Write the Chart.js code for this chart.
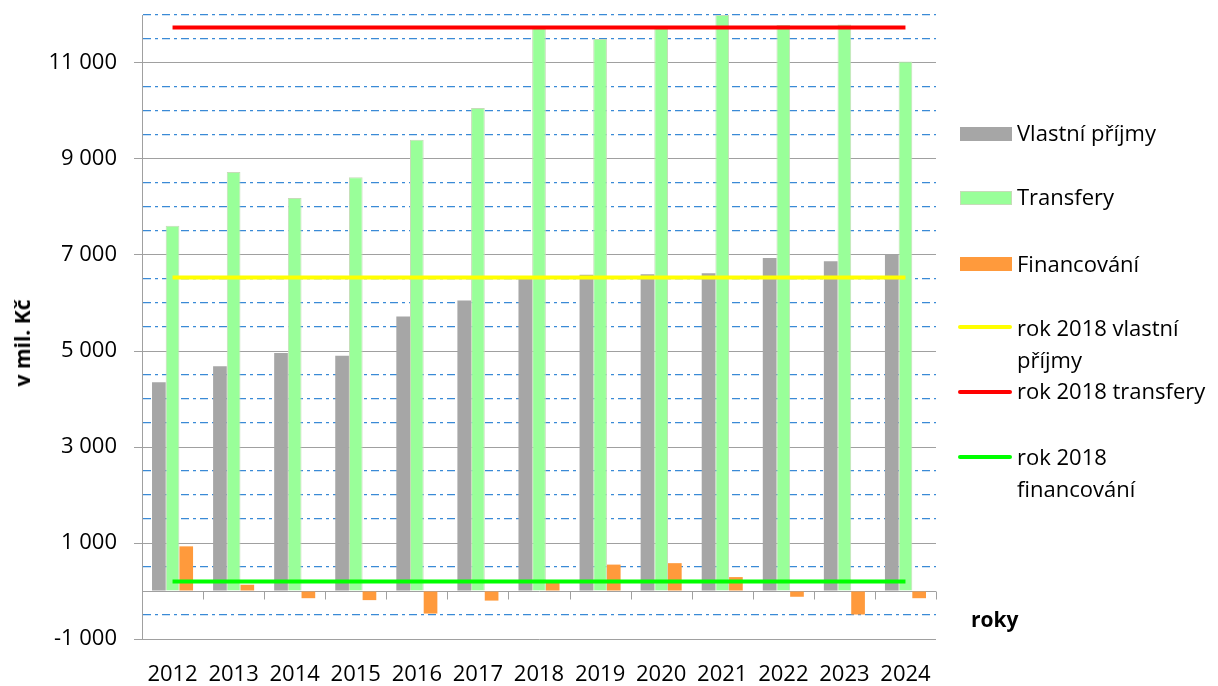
<!DOCTYPE html>
<html>
<head>
<meta charset="utf-8">
<script src="https://cdn.jsdelivr.net/npm/chart.js@4.4.1/dist/chart.umd.min.js"></script>
<style>
    body { margin: 0; background: #fff; font-family: "Open Sans", sans-serif; }
    #wrap { position: relative; width: 1218px; height: 686px; }
    #chart { position: absolute; left: 0; top: 0; }
    .ytitle { position: absolute; left: 22px; top: 343px; transform: translate(-50%, -50%) rotate(-90deg);
              font-weight: bold; font-size: 21px; white-space: nowrap; }
    .xtitle { position: absolute; left: 971px; top: 605px; font-weight: bold; font-size: 21px; }
    .legend { position: absolute; left: 0; top: 0; font-size: 22px; color: #000; }
    .item { position: absolute; left: 1017px; line-height: 32px; white-space: nowrap; }
    .box { position: absolute; left: 960px; width: 52px; height: 14px; }
    .ln { position: absolute; left: 958px; width: 54px; height: 4px; border-radius: 2px; }
</style>
</head>
<body>
<div id="wrap">
    <canvas id="chart" width="1218" height="686"></canvas>
    <div class="ytitle">v mil. Kč</div>
    <div class="xtitle">roky</div>
    <div class="legend">
        <div class="box" style="top:127px;background:#A6A6A6"></div>
        <div class="item" style="top:116px">Vlastní příjmy</div>
        <div class="box" style="top:191px;background:#99FF99;border:1px solid #C6DCB8;width:50px;height:12px"></div>
        <div class="item" style="top:180px">Transfery</div>
        <div class="box" style="top:257px;background:#FF9A3C"></div>
        <div class="item" style="top:247px">Financování</div>
        <div class="ln" style="top:325px;background:#FFFF00"></div>
        <div class="item" style="top:311px">rok 2018 vlastní<br>příjmy</div>
        <div class="ln" style="top:390px;background:#FF0000"></div>
        <div class="item" style="top:374px">rok 2018 transfery</div>
        <div class="ln" style="top:455px;background:#00FF00"></div>
        <div class="item" style="top:440px">rok 2018<br>financování</div>
    </div>
</div>
<script>
// Data
const roky = ['2012', '2013', '2014', '2015', '2016', '2017', '2018', '2019', '2020', '2021', '2022', '2023', '2024'];
const vlastniPrijmy = [4350, 4680, 4960, 4900, 5720, 6050, 6530, 6590, 6600, 6620, 6940, 6870, 7010];
const transfery = [7610, 8730, 8190, 8620, 9400, 10060, 11740, 11500, 11740, 12000, 11790, 11800, 11030];
const financovani = [930, 130, -150, -190, -470, -200, 200, 550, 580, 290, -120, -490, -150];
const rok2018Vlastni = [6530, 6530, 6530, 6530, 6530, 6530, 6530, 6530, 6530, 6530, 6530, 6530, 6530];
const rok2018Transfery = [11740, 11740, 11740, 11740, 11740, 11740, 11740, 11740, 11740, 11740, 11740, 11740, 11740];
const rok2018Financovani = [200, 200, 200, 200, 200, 200, 200, 200, 200, 200, 200, 200, 200];

const yMin = -1000;
const yMax = 12000;

function isMajor(v) {
    return (v - yMin) % 2000 === 0;
}

function formatTick(v) {
    const sign = v < 0 ? '-' : '';
    const a = Math.abs(v);
    if (a < 1000) return sign + a;
    return sign + Math.floor(a / 1000) + ' ' + String(a % 1000).padStart(3, '0');
}

// small tick marks on the zero line between the years
const zeroTicks = {
    id: 'zeroTicks',
    beforeDatasetsDraw(chart) {
        const { ctx, scales: { x, y } } = chart;
        const y0 = Math.round(y.getPixelForValue(0)) + 0.5;
        const step = (x.right - x.left) / roky.length;
        ctx.save();
        ctx.strokeStyle = '#A0A0A0';
        ctx.lineWidth = 1;
        ctx.beginPath();
        for (let i = 0; i <= roky.length; i++) {
            const px = Math.round(x.left + i * step) + 0.5;
            ctx.moveTo(px, y0);
            ctx.lineTo(px, y0 + 8);
        }
        ctx.stroke();
        ctx.restore();
    }
};

Chart.defaults.font.family = 'Open Sans';
Chart.defaults.color = '#000';

const lineStyle = { type: 'line', pointRadius: 0, borderWidth: 4, fill: false, order: 0 };

new Chart(document.getElementById('chart'), {
    type: 'bar',
    data: {
        labels: roky,
        datasets: [
            { label: 'Vlastní příjmy', data: vlastniPrijmy, backgroundColor: '#A6A6A6', order: 1 },
            { label: 'Transfery', data: transfery, backgroundColor: '#99FF99', borderColor: '#C6DCB8', borderWidth: 1, order: 1 },
            { label: 'Financování', data: financovani, backgroundColor: '#FF9A3C', order: 1 },
            { ...lineStyle, label: 'rok 2018 vlastní příjmy', data: rok2018Vlastni, borderColor: '#FFFF00' },
            { ...lineStyle, label: 'rok 2018 transfery', data: rok2018Transfery, borderColor: '#FF0000' },
            { ...lineStyle, label: 'rok 2018 financování', data: rok2018Financovani, borderColor: '#00FF00' }
        ]
    },
    options: {
        responsive: false,
        animation: false,
        categoryPercentage: 0.672,
        barPercentage: 1,
        layout: { padding: { left: 0, top: 15, right: 282, bottom: 0 } },
        plugins: {
            legend: { display: false },
            tooltip: { enabled: false }
        },
        scales: {
            x: {
                grid: { display: false },
                border: { display: false },
                ticks: { font: { size: 22 }, padding: 15, autoSkip: false, maxRotation: 0 },
                afterFit: s => { s.height = 47; }
            },
            y: {
                min: yMin,
                max: yMax,
                ticks: {
                    stepSize: 500,
                    autoSkip: false,
                    padding: 17,
                    font: { size: 22 },
                    callback: v => isMajor(v) ? formatTick(v) : ''
                },
                grid: {
                    lineWidth: c => (c.tick && c.tick.value !== 0 && !isMajor(c.tick.value)) ? 1.3 : 1,
                    tickLength: 8,
                    color: c => (c.tick && (c.tick.value === 0 || isMajor(c.tick.value))) ? '#A0A0A0' : '#3A8AD6',
                    tickColor: c => (c.tick && c.tick.value !== 0 && isMajor(c.tick.value)) ? '#A0A0A0' : 'rgba(0,0,0,0)'
                },
                border: {
                    color: '#A0A0A0',
                    dash: c => (c.tick && c.tick.value !== 0 && !isMajor(c.tick.value)) ? [8, 4, 3, 4] : []
                },
                afterFit: s => { s.width = 142; s.paddingTop = 0; s.paddingBottom = 0; }
            }
        }
    },
    plugins: [zeroTicks]
});
</script>
</body>
</html>
